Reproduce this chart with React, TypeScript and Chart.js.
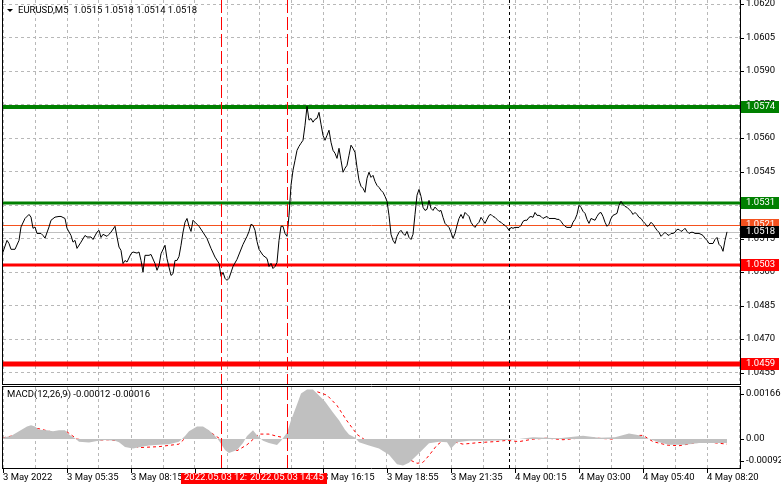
import React, { useEffect, useRef } from 'react';
import { Chart, registerables } from 'chart.js';

Chart.register(...registerables);

// ---------- text ----------
const symbolTitle = 'EURUSD,M5  1.0515 1.0518 1.0514 1.0518';
const macdTitle = 'MACD(12,26,9) -0.00012 -0.00016';

// ---------- price (M5 bars counted from 3 May 02:55) ----------
const priceBars = [
  0, 2, 3, 4, 6, 8, 9, 11, 13, 14, 15, 16, 17, 19, 20, 21, 23, 24, 26, 28, 29, 31, 32, 34, 35, 36, 37, 39, 41, 42,
  44, 45, 47, 48, 49, 50, 52, 53, 54, 56, 57, 58, 59, 60, 61, 62, 64, 65, 67, 68, 69, 70, 71, 73, 74, 76, 77, 78, 79, 81,
  82, 83, 84, 85, 86, 87, 88, 89, 90, 91, 92, 93, 94, 95, 96, 97, 98, 100, 102, 104, 106, 108, 109, 110, 111, 112, 113, 115, 117, 120,
  122, 123, 124, 125, 126, 127, 128, 130, 132, 133, 134, 135, 136, 137, 138, 139, 140, 141, 142, 143, 144, 145, 146, 147, 148, 149, 150, 151, 152, 153,
  154, 155, 156, 157, 158, 159, 160, 161, 162, 163, 164, 165, 166, 167, 168, 169, 170, 171, 172, 173, 174, 175, 176, 177, 178, 179, 180, 181, 182, 183,
  184, 185, 186, 187, 188, 189, 190, 191, 192, 193, 194, 195, 196, 197, 198, 199, 200, 201, 202, 203, 204, 205, 206, 207, 208, 209, 210, 211, 212, 213,
  214, 215, 216, 217, 218, 219, 220, 221, 222, 223, 224, 225, 226, 227, 228, 229, 230, 231, 232, 233, 234, 235, 236, 237, 238, 239, 240, 241, 242, 243,
  244, 245, 246, 247, 248, 249, 250, 251, 252, 253, 254, 255, 256, 257, 258, 259, 260, 261, 262, 263, 264, 265, 266, 267, 268, 269, 270, 271, 272, 273,
  274, 275, 276, 277, 278, 279, 280, 281, 282, 283, 284, 285, 286, 287, 288, 289, 290, 291, 292, 293, 294, 295, 296, 297, 298, 299, 300, 301, 302, 303,
  304, 305, 306, 307, 308, 309, 310, 311, 312, 313, 314, 315, 316, 317, 318, 319, 320, 321, 322, 323, 324, 325, 326, 327, 328, 329, 330, 331, 332, 333,
  334, 335, 336, 337, 338, 339, 340, 341, 342, 343, 344, 345, 346, 347, 348, 349, 350, 351, 352, 353, 354, 355, 356, 357, 358, 359, 360, 361, 362,
];
const priceCloses = [
  1.0509, 1.05142, 1.05128, 1.05102, 1.05102, 1.05142, 1.05202, 1.0524, 1.05258, 1.05246, 1.05196, 1.05202, 1.05173, 1.05173, 1.05164, 1.05152, 1.05202, 1.05232, 1.05246, 1.05249, 1.05249, 1.0524, 1.05196, 1.05164, 1.05134, 1.05142, 1.05106, 1.05134, 1.05164, 1.05157,
  1.05157, 1.05146, 1.05179, 1.05187, 1.05155, 1.05169, 1.0516, 1.05169, 1.05179, 1.05205, 1.05157, 1.05112, 1.05097, 1.05038, 1.05052, 1.05045, 1.05082, 1.0509, 1.05085, 1.0509, 1.05052, 1.05, 1.05075, 1.05075, 1.05079, 1.05038, 1.05008, 1.0503, 1.05082, 1.0512,
  1.0506, 1.05022, 1.04985, 1.04993, 1.05052, 1.05052, 1.0507, 1.0512, 1.05178, 1.05223, 1.0524, 1.05205, 1.05182, 1.05232, 1.05223, 1.05214, 1.05205, 1.05178, 1.0515, 1.05106, 1.05067, 1.05039, 1.04981, 1.04999, 1.04972, 1.04963, 1.04972, 1.05025, 1.05057, 1.05124,
  1.0516, 1.05182, 1.05214, 1.05209, 1.05187, 1.05137, 1.05102, 1.05075, 1.05061, 1.05025, 1.05039, 1.05016, 1.05025, 1.05043, 1.05142, 1.05205, 1.05205, 1.05173, 1.0516, 1.05254, 1.05388, 1.05456, 1.055, 1.05545, 1.05563, 1.05577, 1.0559, 1.05657, 1.05742, 1.0568,
  1.05688, 1.05671, 1.05684, 1.05688, 1.05715, 1.05662, 1.05612, 1.0559, 1.05612, 1.05635, 1.05581, 1.05545, 1.05532, 1.05509, 1.05554, 1.055, 1.05447, 1.05465, 1.05478, 1.05523, 1.05568, 1.05554, 1.05536, 1.05469, 1.05411, 1.05384, 1.05375, 1.05357, 1.0542, 1.05447,
  1.05424, 1.05433, 1.05406, 1.05388, 1.05379, 1.05366, 1.05357, 1.05339, 1.05317, 1.05254, 1.05169, 1.05142, 1.05128, 1.0516, 1.05178, 1.05187, 1.05173, 1.05164, 1.05182, 1.05155, 1.05146, 1.05169, 1.05258, 1.05344, 1.0537, 1.05339, 1.0529, 1.05276, 1.05281, 1.05321,
  1.05285, 1.05276, 1.05291, 1.05281, 1.05272, 1.05276, 1.05245, 1.05218, 1.05209, 1.052, 1.05178, 1.05151, 1.05173, 1.05209, 1.0524, 1.05258, 1.0524, 1.05267, 1.05258, 1.05249, 1.05223, 1.05209, 1.052, 1.05214, 1.05223, 1.05245, 1.05232, 1.05218, 1.05236, 1.05254,
  1.05258, 1.05249, 1.05245, 1.05236, 1.05227, 1.05223, 1.05214, 1.05209, 1.052, 1.05187, 1.052, 1.05196, 1.052, 1.052, 1.052, 1.05209, 1.05227, 1.05232, 1.05232, 1.05245, 1.05249, 1.05245, 1.05267, 1.05254, 1.05254, 1.05249, 1.0524, 1.05245, 1.05249, 1.0524,
  1.0524, 1.0524, 1.0524, 1.05236, 1.05236, 1.05227, 1.05214, 1.05205, 1.052, 1.052, 1.052, 1.05223, 1.05236, 1.05258, 1.05299, 1.0529, 1.05272, 1.05263, 1.05236, 1.05218, 1.0524, 1.05236, 1.05232, 1.05249, 1.05263, 1.05267, 1.05249, 1.05223, 1.05205, 1.05214,
  1.0524, 1.05254, 1.05258, 1.05263, 1.05299, 1.05317, 1.05303, 1.05294, 1.0529, 1.05281, 1.05272, 1.05258, 1.05267, 1.05258, 1.05245, 1.0524, 1.05227, 1.05218, 1.05205, 1.05209, 1.05223, 1.05214, 1.052, 1.05187, 1.05178, 1.0516, 1.05169, 1.05178, 1.05169, 1.05164,
  1.05173, 1.05173, 1.05178, 1.05191, 1.05191, 1.05182, 1.05187, 1.05196, 1.05182, 1.05173, 1.05178, 1.05178, 1.05173, 1.05173, 1.05173, 1.05169, 1.05164, 1.05151, 1.05142, 1.05128, 1.05128, 1.05128, 1.05146, 1.05155, 1.05124, 1.05115, 1.05093, 1.05142, 1.0518,
];

// ---------- MACD ----------
const macdBars = [
  0, 4, 8, 12, 14, 16, 18, 22, 25, 28, 31, 33, 36, 38, 43, 47, 51, 56, 58, 61, 65, 68, 73, 78, 83, 88, 91, 93, 97, 100,
  103, 106, 108, 111, 113, 117, 120, 122, 125, 127, 130, 133, 137, 139, 142, 144, 147, 149, 152, 155, 157, 161, 165, 168, 171, 173, 176, 178, 183, 188,
  193, 197, 200, 203, 208, 213, 218, 222, 224, 227, 233, 243, 252, 258, 265, 278, 290, 298, 306, 313, 318, 323, 328, 333, 341, 348, 356, 362,
];
const macdValues = [
  0.00005, 0.0001, 0.00025, 0.0004, 0.00044, 0.0004, 0.0003, 0.00028, 0.00025, 0.00028, 0.00028, 0.00015, 0.00003, -0.00008, -0.00011, -0.00006, -0.00003, -0.00005, -0.0001, -0.00025, -0.0003, -0.00026, -0.0002, -0.00018, -0.00016, -0.00008, 0.0001, 0.00025, 0.0004, 0.0004,
  0.00028, 0.0001, -0.00005, -0.00035, -0.00044, -0.00035, -0.00012, 0.0001, 0.00028, 0.00012, -0.00005, -0.00012, -0.00019, -0.00005, 0.0002, 0.0006, 0.0011, 0.00145, 0.00158, 0.00158, 0.00145, 0.0012, 0.00085, 0.0006, 0.0003, 0.00015, 0.00005, -0.0001, -0.0002, -0.0003,
  -0.0005, -0.0008, -0.00084, -0.00075, -0.00045, -0.00013, -0.00008, -0.0001, -0.0003, -0.0001, -0.00005, -0.00005, -0.00003, 0, 0.00006, 0.00003, 0.00011, 0.00004, 0.00006, 0.00018, 0.00012, 0, -0.0001, -0.00018, -0.00018, -0.00012, -0.00012, -0.00012,
];
const signalBars = [
  0, 8, 15, 18, 25, 32, 37, 43, 53, 60, 68, 78, 88, 93, 98, 103, 108, 113, 117, 122, 128, 133, 137, 142, 147, 152, 157, 162, 167, 172,
  177, 182, 190, 197, 202, 207, 210, 213, 217, 220, 225, 230, 238, 246, 252, 258, 265, 272, 280, 288, 297, 305, 312, 320, 325, 332, 338, 347, 352, 362,
];
const signalValues = [
  0.00004, 0.00015, 0.00036, 0.00033, 0.00022, 0.00023, 0, -0.00004, -0.00002, -0.00008, -0.00027, -0.00024, -0.00016, 0.00015, 0.00036, 0.00025, 0.00003, -0.00024, -0.00037, -0.00018, 0.00016, 0.00016, 0.00009, 0.00003, 0.00074, 0.00129, 0.00151, 0.0014, 0.00107, 0.00058,
  0.00015, -0.00007, -0.00029, -0.0005, -0.00062, -0.00077, -0.00074, -0.00052, -0.00019, -0.00005, -0.00008, -0.00016, -0.00011, -0.00008, -0.00004, -0.00008, 0, 0.00003, -0.00002, 0.00003, 0.00003, 0, 0.00011, 0.00012, -0.00008, -0.00019, -0.00021, -0.00011, -0.00009, -0.00016,
];

// ---------- axes ----------
const priceTicks = [1.062, 1.0605, 1.059, 1.0575, 1.056, 1.0545, 1.053, 1.0515, 1.05, 1.0485, 1.047, 1.0455];
const priceMin = 1.04499;
const priceMax = 1.06218;
const macdTicks = [0.00166, 0, -0.00092];
const macdTickLabels = ['0.00166', '0.00', '-0.00092'];
const macdMin = -0.00092;
const macdMax = 0.00166;
const barMax = 368.5;
const gridBars = [0, 16, 32, 48, 64, 80, 96, 112, 128, 144, 160, 176, 192, 208, 224, 240, 256, 272, 288, 304, 320, 336, 352, 368];
const timeTickBars = [0, 32, 64, 96, 128, 160, 192, 224, 256, 288, 320, 352];
const timeTickLabels = [
  '3 May 2022', '3 May 05:35', '3 May 08:15', '3 May 10:55', '3 May 13:35', '3 May 16:15',
  '3 May 18:55', '3 May 21:35', '4 May 00:15', '4 May 03:00', '4 May 05:40', '4 May 08:20',
];

// ---------- objects ----------
const levelValues = [1.0574, 1.0531, 1.0503, 1.0459];
const levelLabels = ['1.0574', '1.0531', '1.0503', '1.0459'];
const askPrice = 1.0521;
const bidPrice = 1.0518;
const markerBars = [109, 142];
const markerLabels = ['2022.05.03 12:00', '2022.05.03 14:45'];
const daySeparatorBar = 253;

// ---------- styles ----------
const FONT = '9.5px Roboto';
const GRID = '#b8b8b8';
const LEVEL_STYLE = [
  { color: '#008000', width: 4 },
  { color: '#008000', width: 3 },
  { color: '#ff0000', width: 3 },
  { color: '#ff0000', width: 5 },
];
const ASK_COLOR = '#f4511e';
const BID_COLOR = '#c0c0c0';
const LABEL_X = 746;
const BOX_L = 741;
const BOX_R = 779;

function text(ctx: CanvasRenderingContext2D, s: string, x: number, y: number, color: string, align: CanvasTextAlign = 'left') {
  ctx.save();
  ctx.font = FONT;
  ctx.fillStyle = color;
  ctx.textAlign = align;
  ctx.textBaseline = 'middle';
  ctx.fillText(s, x, y);
  ctx.restore();
}

function box(ctx: CanvasRenderingContext2D, s: string, y: number, bg: string) {
  ctx.save();
  ctx.fillStyle = bg;
  ctx.fillRect(BOX_L, Math.round(y) - 6, BOX_R - BOX_L, 12);
  ctx.restore();
  text(ctx, s, LABEL_X, Math.round(y), '#ffffff');
}

function hLine(ctx: CanvasRenderingContext2D, x0: number, x1: number, y: number, color: string, w: number, dash: number[] = []) {
  ctx.save();
  ctx.strokeStyle = color;
  ctx.lineWidth = w;
  ctx.setLineDash(dash);
  ctx.beginPath();
  ctx.moveTo(x0, y);
  ctx.lineTo(x1, y);
  ctx.stroke();
  ctx.restore();
}

function vLine(ctx: CanvasRenderingContext2D, x: number, y0: number, y1: number, color: string, w: number, dash: number[] = []) {
  ctx.save();
  ctx.strokeStyle = color;
  ctx.lineWidth = w;
  ctx.setLineDash(dash);
  ctx.beginPath();
  ctx.moveTo(x, y0);
  ctx.lineTo(x, y1);
  ctx.stroke();
  ctx.restore();
}

function drawVerticalObjects(chart: any) {
  const { ctx, chartArea: a, scales } = chart;
  const x = scales.x;
  markerBars.forEach((b) => {
    const px = Math.round(x.getPixelForValue(b)) + 0.5;
    vLine(ctx, px, a.top, a.bottom, '#ff0000', 1, [13, 4]);
  });
  const dx = Math.round(x.getPixelForValue(daySeparatorBar)) + 0.5;
  vLine(ctx, dx, a.top, a.bottom, '#000000', 1, [3, 3]);
}

const mainPlugin = {
  id: 'mainDecor',
  beforeDatasetsDraw(chart: any) {
    const { ctx, chartArea: a, scales } = chart;
    const y = scales.y;
    hLine(ctx, a.left, a.right, Math.round(y.getPixelForValue(bidPrice)) + 0.5, BID_COLOR, 1);
    hLine(ctx, a.left, a.right, Math.round(y.getPixelForValue(askPrice)) + 0.5, ASK_COLOR, 1);
    levelValues.forEach((v, i) => {
      const st = LEVEL_STYLE[i];
      hLine(ctx, a.left, a.right, Math.round(y.getPixelForValue(v)), st.color, st.width);
    });
  },
  afterDatasetsDraw(chart: any) {
    drawVerticalObjects(chart);
  },
  afterDraw(chart: any) {
    const { ctx, chartArea: a, scales } = chart;
    const y = scales.y;
    vLine(ctx, a.left - 0.5, 0, a.bottom + 1, '#000', 1);
    vLine(ctx, a.right + 0.5, 0, a.bottom + 1, '#000', 1);
    hLine(ctx, a.left - 1, a.right + 1, a.bottom + 0.5, '#000', 1);
    priceTicks.forEach((v) => {
      const py = Math.round(y.getPixelForValue(v));
      hLine(ctx, a.right + 1, a.right + 4, py + 0.5, '#000', 1);
      text(ctx, v.toFixed(4), LABEL_X, py, '#000');
    });
    levelValues.forEach((v, i) => {
      if (i < 2) box(ctx, levelLabels[i], y.getPixelForValue(v), LEVEL_STYLE[i].color);
    });
    box(ctx, askPrice.toFixed(4), y.getPixelForValue(askPrice), ASK_COLOR);
    box(ctx, bidPrice.toFixed(4), y.getPixelForValue(bidPrice), '#000000');
    levelValues.forEach((v, i) => {
      if (i >= 2) box(ctx, levelLabels[i], y.getPixelForValue(v), LEVEL_STYLE[i].color);
    });
    ctx.save();
    ctx.fillStyle = '#000';
    ctx.beginPath();
    ctx.moveTo(7, 9);
    ctx.lineTo(13, 9);
    ctx.lineTo(10, 12);
    ctx.closePath();
    ctx.fill();
    ctx.restore();
    text(ctx, symbolTitle, 18, 11, '#000');
  },
};

const macdPlugin = {
  id: 'macdDecor',
  afterDatasetsDraw(chart: any) {
    drawVerticalObjects(chart);
  },
  afterDraw(chart: any) {
    const { ctx, chartArea: a, scales } = chart;
    const x = scales.x;
    const y = scales.y;
    vLine(ctx, a.left - 0.5, 0, a.bottom + 1, '#000', 1);
    vLine(ctx, a.right + 0.5, 0, a.bottom + 1, '#000', 1);
    hLine(ctx, a.left - 1, a.right + 1, 0.5, '#000', 1);
    hLine(ctx, a.left - 1, a.right + 1, a.bottom + 0.5, '#000', 1);
    macdTicks.forEach((v, i) => {
      const raw = y.getPixelForValue(v);
      const py = Math.round(Math.min(Math.max(raw, a.top + 7), a.bottom - 7));
      hLine(ctx, a.right + 1, a.right + 4, py + 0.5, '#000', 1);
      text(ctx, macdTickLabels[i], LABEL_X, py, '#000');
    });
    const ly = a.bottom + 10;
    timeTickBars.forEach((b, i) => {
      const px = Math.round(x.getPixelForValue(b)) + 0.5;
      vLine(ctx, px, a.bottom + 1, a.bottom + 5, '#000', 1);
      text(ctx, timeTickLabels[i], px - 0.5, ly, '#000');
    });
    ctx.save();
    ctx.font = FONT;
    markerBars.forEach((b, i) => {
      const px = x.getPixelForValue(b);
      const w = ctx.measureText(markerLabels[i]).width + 6;
      ctx.fillStyle = '#ff0000';
      ctx.fillRect(Math.round(px - w / 2), ly - 5, Math.round(w), 11);
      text(ctx, markerLabels[i], Math.round(px - w / 2) + 3, ly, '#ffffff');
    });
    ctx.restore();
    text(ctx, macdTitle, 7, 9, '#000');
  },
};

function xScale() {
  return {
    type: 'linear' as const,
    min: 0,
    max: barMax,
    ticks: { display: false },
    grid: { color: GRID, lineWidth: 1, drawTicks: false },
    border: { display: false, dash: [3, 3] },
    afterBuildTicks: (s: any) => {
      s.ticks = gridBars.map((v) => ({ value: v }));
    },
  };
}

export default function App() {
  const mainRef = useRef<HTMLCanvasElement>(null);
  const macdRef = useRef<HTMLCanvasElement>(null);

  useEffect(() => {
    document.body.style.margin = '0';
    const main = new Chart(mainRef.current as HTMLCanvasElement, {
      type: 'line',
      data: {
        datasets: [
          {
            data: priceBars.map((b, i) => ({ x: b, y: priceCloses[i] })),
            borderColor: '#000000',
            borderWidth: 1,
            pointRadius: 0,
            tension: 0,
            fill: false,
          },
        ],
      },
      options: {
        responsive: false,
        animation: false,
        devicePixelRatio: 1,
        events: [],
        layout: { padding: { left: 3, right: 41, top: 0, bottom: 2 } },
        plugins: { legend: { display: false }, tooltip: { enabled: false } },
        scales: {
          x: xScale(),
          y: {
            type: 'linear',
            position: 'right',
            min: priceMin,
            max: priceMax,
            ticks: { display: false },
            grid: { color: GRID, lineWidth: 1, drawTicks: false },
            border: { display: false, dash: [3, 3] },
            afterBuildTicks: (s: any) => {
              s.ticks = priceTicks.map((v) => ({ value: v }));
            },
          },
        },
      } as any,
      plugins: [mainPlugin],
    });

    const macd = new Chart(macdRef.current as HTMLCanvasElement, {
      type: 'line',
      data: {
        datasets: [
          {
            data: macdBars.map((b, i) => ({ x: b, y: macdValues[i] })),
            borderWidth: 0,
            borderColor: 'rgba(0,0,0,0)',
            backgroundColor: '#c0c0c0',
            pointRadius: 0,
            tension: 0,
            fill: 'origin',
          },
          {
            data: signalBars.map((b, i) => ({ x: b, y: signalValues[i] })),
            borderWidth: 1,
            borderColor: '#ff0000',
            borderDash: [3, 3],
            pointRadius: 0,
            tension: 0,
            fill: false,
          },
        ],
      },
      options: {
        responsive: false,
        animation: false,
        devicePixelRatio: 1,
        events: [],
        layout: { padding: { left: 3, right: 41, top: 1, bottom: 21 } },
        plugins: { legend: { display: false }, tooltip: { enabled: false } },
        scales: {
          x: xScale(),
          y: {
            type: 'linear',
            position: 'right',
            min: macdMin,
            max: macdMax,
            ticks: { display: false },
            grid: { display: false, drawTicks: false },
            border: { display: false },
          },
        },
      } as any,
      plugins: [macdPlugin],
    });

    return () => {
      main.destroy();
      macd.destroy();
    };
  }, []);

  return (
    <div style={{ position: 'fixed', left: 0, top: 0, width: 781, height: 489, background: '#ffffff' }}>
      <canvas ref={mainRef} width={781} height={386} style={{ position: 'absolute', left: 0, top: 0, display: 'block' }} />
      <canvas ref={macdRef} width={781} height={103} style={{ position: 'absolute', left: 0, top: 386, display: 'block' }} />
    </div>
  );
}
